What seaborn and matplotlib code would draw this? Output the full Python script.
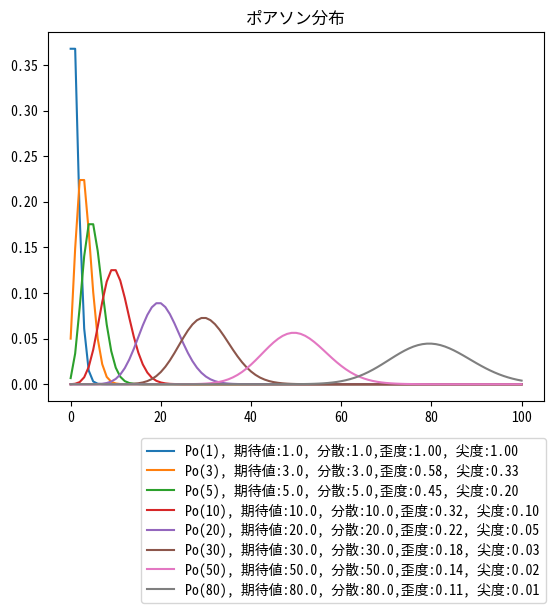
import matplotlib
matplotlib.use("Agg")
import matplotlib.pyplot as plt
import pandas as pd
import seaborn as sns

plt.rcParams['font.family'] = ['Noto Sans Mono CJK JP', 'Noto Sans CJK JP', 'DejaVu Sans']

# x = 0..100, probabilities (start index + visible values, zero elsewhere)
x_vals = list(range(101))

po1_start = 0
po1 = [0.368, 0.368, 0.184, 0.061, 0.015, 0.003, 0.0005, 0.0001]

po3_start = 0
po3 = [0.050, 0.149, 0.224, 0.224, 0.168, 0.101, 0.050, 0.022, 0.008, 0.0027,
       0.0008, 0.0002, 0.0001]

po5_start = 0
po5 = [0.0067, 0.0337, 0.0842, 0.1404, 0.1755, 0.1755, 0.1462, 0.1044, 0.0653,
       0.0363, 0.0181, 0.0082, 0.0034, 0.0013, 0.0005, 0.0002]

po10_start = 0
po10 = [0.0000, 0.0005, 0.0023, 0.0076, 0.0189, 0.0378, 0.0631, 0.0901, 0.1126,
        0.1251, 0.1251, 0.1137, 0.0948, 0.0729, 0.0521, 0.0347, 0.0217, 0.0128,
        0.0071, 0.0037, 0.0019, 0.0009, 0.0004, 0.0002, 0.0001]

po20_start = 4
po20 = [0.00001, 0.00005, 0.00018, 0.00052, 0.00131, 0.00291, 0.00582, 0.01058,
        0.01763, 0.02712, 0.03874, 0.05165, 0.06457, 0.07596, 0.08440, 0.08884,
        0.08884, 0.08461, 0.07692, 0.06689, 0.05574, 0.04459, 0.03430, 0.02541,
        0.01815, 0.01252, 0.00834, 0.00538, 0.00336, 0.00204, 0.00120, 0.00069,
        0.00038, 0.00021, 0.00011, 0.00006, 0.00003]

po30_start = 10
po30 = [0.00001, 0.00004, 0.00010, 0.00024, 0.00051, 0.00103, 0.00193, 0.00340,
        0.00566, 0.00893, 0.01340, 0.01915, 0.02611, 0.03406, 0.04258, 0.05109,
        0.05895, 0.06550, 0.07018, 0.07263, 0.07263, 0.07026, 0.06587, 0.05988,
        0.05284, 0.04529, 0.03774, 0.03060, 0.02416, 0.01858, 0.01394, 0.01020,
        0.00728, 0.00508, 0.00346, 0.00231, 0.00151, 0.00096, 0.00060, 0.00037,
        0.00022, 0.00013, 0.00007, 0.00004, 0.00002, 0.00001]

po50_start = 23
po50 = [0.00001, 0.00002, 0.00004, 0.00007, 0.00014, 0.00024, 0.00041, 0.00068,
        0.00109, 0.00171, 0.00259, 0.00381, 0.00544, 0.00755, 0.01020, 0.01342,
        0.01720, 0.02150, 0.02622, 0.03122, 0.03630, 0.04125, 0.04583, 0.04981,
        0.05299, 0.05520, 0.05633, 0.05633, 0.05523, 0.05311, 0.05010, 0.04639,
        0.04217, 0.03765, 0.03303, 0.02847, 0.02413, 0.02011, 0.01648, 0.01329,
        0.01055, 0.00824, 0.00634, 0.00480, 0.00358, 0.00263, 0.00191, 0.00136,
        0.00096, 0.00067, 0.00046, 0.00031, 0.00021, 0.00014, 0.00009, 0.00006,
        0.00004, 0.00002, 0.00001]

po80_start = 46
po80 = [0.00001, 0.00002, 0.00003, 0.00005, 0.00008, 0.00013, 0.00020, 0.00030,
        0.00045, 0.00066, 0.00095, 0.00133, 0.00184, 0.00249, 0.00332, 0.00436,
        0.00562, 0.00714, 0.00892, 0.01098, 0.01331, 0.01589, 0.01869, 0.02167,
        0.02477, 0.02791, 0.03101, 0.03398, 0.03673, 0.03918, 0.04124, 0.04284,
        0.04394, 0.04450, 0.04450, 0.04395, 0.04288, 0.04133, 0.03936, 0.03705,
        0.03447, 0.03170, 0.02882, 0.02590, 0.02302, 0.02024, 0.01760, 0.01514,
        0.01289, 0.01085, 0.00904, 0.00746, 0.00609, 0.00492, 0.00394]

labels = [
    "Po(1), 期待値:1.0, 分散:1.0,歪度:1.00, 尖度:1.00",
    "Po(3), 期待値:3.0, 分散:3.0,歪度:0.58, 尖度:0.33",
    "Po(5), 期待値:5.0, 分散:5.0,歪度:0.45, 尖度:0.20",
    "Po(10), 期待値:10.0, 分散:10.0,歪度:0.32, 尖度:0.10",
    "Po(20), 期待値:20.0, 分散:20.0,歪度:0.22, 尖度:0.05",
    "Po(30), 期待値:30.0, 分散:30.0,歪度:0.18, 尖度:0.03",
    "Po(50), 期待値:50.0, 分散:50.0,歪度:0.14, 尖度:0.02",
    "Po(80), 期待値:80.0, 分散:80.0,歪度:0.11, 尖度:0.01",
]

series = [(po1_start, po1), (po3_start, po3), (po5_start, po5), (po10_start, po10),
          (po20_start, po20), (po30_start, po30), (po50_start, po50), (po80_start, po80)]

rows = []
for label, (start, vals) in zip(labels, series):
    full = [0.0] * start + vals + [0.0] * (len(x_vals) - start - len(vals))
    for x, p in zip(x_vals, full):
        rows.append({"x": x, "p": p, "dist": label})
df = pd.DataFrame(rows)

fig = plt.figure(figsize=(5.53, 6.15), dpi=100)
ax = fig.add_axes([0.087, 0.348, 0.897, 0.600])
sns.lineplot(data=df, x="x", y="p", hue="dist", hue_order=labels,
             palette="tab10", ax=ax, linewidth=1.5)
ax.set_title("ポアソン分布")
ax.set_xlabel("")
ax.set_ylabel("")
sns.move_legend(ax, "upper right", bbox_to_anchor=(1.003, -0.1),
                borderaxespad=0, title=None, labelspacing=0.35)

fig.savefig("out.png", dpi=100)
